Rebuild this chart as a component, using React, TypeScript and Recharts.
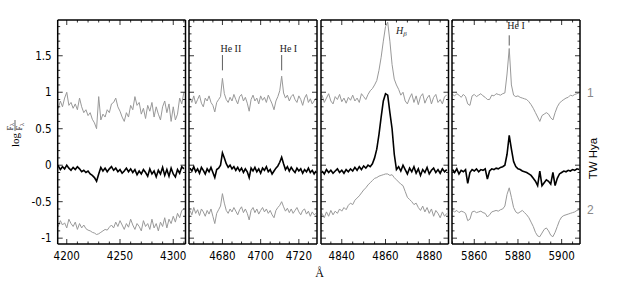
import React from 'react';
import { ComposedChart, Line, XAxis, YAxis, ReferenceLine } from 'recharts';

// log flux ratio, spectrum 1 (top, grey), TW Hya (black), spectrum 2 (bottom, grey)
// panel 1: 4190..4310 A, 2 A step
const p1Upper = [0.84, 0.78, 0.88, 0.80, 0.92, 1.00, 0.82, 0.86, 0.78, 0.84,
  0.76, 0.92, 0.80, 0.72, 0.76, 0.68, 0.72, 0.63, 0.58, 0.50,
  0.94, 0.62, 0.70, 0.66, 0.76, 0.72, 0.84, 0.86, 0.92, 0.80,
  0.74, 0.66, 0.60, 0.72, 0.66, 0.82, 0.76, 0.94, 0.82, 0.86,
  0.70, 0.78, 0.64, 0.82, 0.74, 0.86, 0.66, 0.80, 0.70, 0.62,
  0.80, 0.88, 0.72, 0.84, 0.60, 0.80, 0.62, 0.70, 0.92, 0.84,
  1.00];
const p1Star = [-0.03, -0.01, -0.06, -0.02, -0.05, 0.00, -0.04, -0.07, -0.03, -0.06,
  -0.02, -0.05, -0.09, -0.07, -0.10, -0.08, -0.12, -0.14, -0.17, -0.22,
  -0.12, -0.03, -0.08, -0.04, -0.09, -0.05, -0.02, -0.07, -0.04, -0.09,
  -0.06, -0.11, -0.08, -0.04, -0.09, -0.05, -0.10, -0.06, -0.13, -0.08,
  -0.12, -0.06, -0.10, -0.15, -0.05, -0.12, -0.08, -0.16, -0.07, -0.12,
  -0.03, -0.14, -0.06, -0.15, -0.04, -0.12, -0.16, -0.06, -0.11, -0.02,
  -0.05];
const p1Lower = [-0.80, -0.84, -0.76, -0.82, -0.79, -0.86, -0.74, -0.80, -0.84, -0.78,
  -0.88, -0.80, -0.86, -0.82, -0.87, -0.89, -0.90, -0.92, -0.93, -0.95,
  -0.94, -0.92, -0.90, -0.88, -0.89, -0.85, -0.82, -0.86, -0.78, -0.84,
  -0.76, -0.82, -0.88, -0.80, -0.85, -0.74, -0.82, -0.88, -0.80, -0.84,
  -0.90, -0.76, -0.84, -0.80, -0.88, -0.74, -0.86, -0.80, -0.90, -0.78,
  -0.84, -0.72, -0.86, -0.74, -0.80, -0.70, -0.78, -0.66, -0.72, -0.62,
  -0.60];

// panel 2: 4663..4729 A
const p2Upper = [0.92, 0.86, 0.95, 0.84, 0.90, 0.96, 0.85, 0.80, 0.92, 0.88,
  0.95, 0.86, 0.82, 0.73, 0.86, 0.90, 0.94, 1.19, 0.98, 0.90,
  0.86, 0.93, 0.88, 0.97, 0.90, 0.84, 0.94, 0.97, 0.88, 0.93,
  0.85, 0.74, 0.90, 0.96, 0.88, 0.92, 0.84, 0.95, 0.89, 0.93,
  0.86, 0.96, 0.90, 0.84, 0.76, 0.88, 0.94, 1.02, 1.22, 0.99,
  0.92, 0.96, 0.88, 0.94, 0.97, 0.90, 0.86, 0.95, 0.90, 0.82,
  0.92, 0.97, 0.86, 0.91, 0.84, 0.88, 0.92];
const p2Star = [-0.04, -0.08, -0.02, -0.09, -0.05, -0.11, -0.03, -0.07, -0.12, -0.05,
  -0.09, -0.03, -0.10, -0.17, -0.06, -0.04, 0.00, 0.17, 0.10, 0.02,
  -0.03, 0.00, -0.05, -0.02, -0.07, -0.03, -0.08, -0.04, -0.10, -0.05,
  -0.09, -0.17, -0.04, -0.08, -0.03, -0.09, -0.05, -0.11, -0.04, -0.07,
  -0.02, -0.09, -0.06, -0.12, -0.08, -0.04, -0.01, 0.04, 0.11, 0.02,
  -0.06, -0.02, -0.08, -0.03, -0.07, -0.10, -0.04, -0.08, -0.05, -0.11,
  -0.06, -0.09, -0.04, -0.10, -0.07, -0.12, -0.08];
const p2Lower = [-0.62, -0.68, -0.58, -0.66, -0.61, -0.69, -0.60, -0.64, -0.70, -0.62,
  -0.67, -0.60, -0.70, -0.80, -0.66, -0.61, -0.56, -0.39, -0.52, -0.62,
  -0.66, -0.60, -0.64, -0.58, -0.63, -0.68, -0.61, -0.57, -0.65, -0.60,
  -0.66, -0.75, -0.62, -0.58, -0.65, -0.60, -0.67, -0.62, -0.58, -0.64,
  -0.60, -0.66, -0.62, -0.68, -0.72, -0.62, -0.58, -0.55, -0.50, -0.57,
  -0.63, -0.59, -0.65, -0.60, -0.66, -0.62, -0.58, -0.64, -0.68, -0.62,
  -0.60, -0.67, -0.63, -0.70, -0.64, -0.68, -0.66];

// panel 3: 4831..4888 A (H beta)
const p3Upper = [0.96, 0.86, 0.92, 0.98, 0.88, 0.84, 0.94, 0.90, 0.97, 0.87,
  0.92, 0.85, 0.93, 0.89, 0.96, 0.88, 0.92, 0.86, 0.98, 0.94,
  0.90, 0.97, 1.02, 1.05, 1.10, 1.16, 1.30, 1.48, 1.70, 1.90,
  1.96, 1.70, 1.38, 1.18, 1.10, 1.04, 0.96, 1.00, 0.88, 0.84,
  0.92, 0.98, 0.86, 0.95, 0.83, 0.94, 0.98, 0.85, 0.92, 0.96,
  0.84, 0.93, 0.97, 0.86, 0.90, 0.84, 0.94, 0.96];
const p3Star = [-0.08, -0.12, -0.06, -0.10, -0.07, -0.11, -0.08, -0.05, -0.10, -0.07,
  -0.11, -0.06, -0.09, -0.05, -0.08, -0.03, -0.07, -0.02, -0.06, -0.01,
  -0.04, 0.00, -0.02, 0.02, 0.10, 0.22, 0.42, 0.66, 0.88, 0.98,
  0.96, 0.72, 0.50, 0.15, -0.06, -0.02, -0.08, 0.00, -0.06, -0.12,
  -0.04, -0.09, -0.02, -0.11, -0.05, -0.14, -0.06, -0.10, -0.03, -0.12,
  -0.07, -0.04, -0.10, -0.06, -0.11, -0.05, -0.09, -0.06];
const p3Lower = [-0.66, -0.72, -0.64, -0.70, -0.62, -0.68, -0.63, -0.66, -0.60, -0.63,
  -0.58, -0.61, -0.55, -0.52, -0.54, -0.48, -0.45, -0.42, -0.38, -0.34,
  -0.31, -0.27, -0.24, -0.21, -0.18, -0.17, -0.15, -0.14, -0.13, -0.12,
  -0.12, -0.14, -0.13, -0.17, -0.20, -0.23, -0.26, -0.28, -0.36, -0.44,
  -0.47, -0.50, -0.54, -0.52, -0.58, -0.62, -0.56, -0.64, -0.58, -0.66,
  -0.60, -0.70, -0.62, -0.66, -0.72, -0.64, -0.70, -0.66];

// panel 4: 5850..5908 A (He I 5876, Na D)
const p4Upper = [0.97, 0.95, 0.98, 0.96, 0.93, 0.97, 0.94, 0.84, 0.82, 0.95,
  0.97, 0.94, 0.96, 0.98, 0.95, 0.93, 0.90, 0.90, 0.96, 0.95,
  0.98, 0.97, 0.96, 0.98, 0.99, 1.25, 1.60, 1.10, 0.96, 0.94,
  0.95, 0.93, 0.92, 0.91, 0.90, 0.87, 0.83, 0.78, 0.72, 0.66,
  0.60, 0.68, 0.70, 0.72, 0.70, 0.65, 0.62, 0.72, 0.80, 0.85,
  0.88, 0.90, 0.92, 0.93, 0.96, 0.95, 0.97, 0.98, 0.99];
const p4Star = [-0.06, -0.10, -0.05, -0.12, -0.07, -0.09, -0.06, -0.25, -0.10, -0.06,
  -0.08, -0.05, -0.09, -0.06, -0.07, -0.05, -0.19, -0.08, -0.05, -0.06,
  -0.04, -0.05, -0.03, -0.02, 0.00, 0.15, 0.41, 0.22, 0.05, -0.02,
  -0.05, -0.06, -0.08, -0.09, -0.10, -0.12, -0.14, -0.18, -0.22, -0.28,
  -0.08, -0.28, -0.24, -0.20, -0.22, -0.26, -0.10, -0.28, -0.18, -0.12,
  -0.10, -0.08, -0.09, -0.07, -0.08, -0.06, -0.07, -0.05, -0.06];
const p4Lower = [-0.62, -0.64, -0.62, -0.65, -0.63, -0.64, -0.66, -0.76, -0.74, -0.64,
  -0.63, -0.65, -0.64, -0.63, -0.65, -0.66, -0.71, -0.68, -0.64, -0.63,
  -0.62, -0.63, -0.61, -0.60, -0.56, -0.40, -0.31, -0.44, -0.58, -0.64,
  -0.66, -0.64, -0.62, -0.65, -0.68, -0.72, -0.78, -0.84, -0.92, -0.97,
  -0.98, -0.93, -0.88, -0.86, -0.90, -0.96, -0.98, -0.92, -0.84, -0.76,
  -0.71, -0.69, -0.68, -0.67, -0.66, -0.65, -0.64, -0.62, -0.61];

const p1Ticks = [4200, 4250, 4300];
const p2Ticks = [4680, 4700, 4720];
const p3Ticks = [4840, 4860, 4880];
const p4Ticks = [5860, 5880, 5900];

const yMajor = [-1, -0.5, 0, 0.5, 1, 1.5];
const yLabels = ['-1', '-0.5', '0', '0.5', '1', '1.5'];

// line identifications
const p2Lines = [{ w: 4680, text: 'He II' }, { w: 4711, text: 'He I' }];
const p4Lines = [{ w: 5876, text: 'He I' }];

const SANS_N = "'Liberation Sans Narrow', 'Arial Narrow', 'DejaVu Sans Condensed', sans-serif";
const SANS = "'Liberation Sans', Arial, sans-serif";
const SERIF = "'Liberation Serif', 'DejaVu Serif', serif";
const GREY = '#999';
const Y_DOMAIN = [-1.08, 1.99];

function steps(from: number, to: number, step: number) {
  const out: number[] = [];
  for (let i = 0; from + i * step <= to + 1e-9; i++) out.push(Math.round((from + i * step) * 1000) / 1000);
  return out;
}

const yTicks = steps(-1, 1.9, 0.1);

const yTick = (side: 'left' | 'right', labels: boolean) => (props: any) => {
  const { x, y, payload } = props;
  const v = payload.value;
  const k = yMajor.findIndex((m) => Math.abs(m - v) < 1e-6);
  const len = k >= 0 ? 5 : 2.5;
  const d = side === 'left' ? 1 : -1;
  return (
    <g>
      <line x1={x} x2={x + d * len} y1={y} y2={y} stroke="#000" strokeWidth={0.8} />
      {labels && k >= 0 && (
        <text x={x - 6} y={y + 4} textAnchor="end" fontFamily={SANS_N} fontSize={11.5} fill="#000">{yLabels[k]}</text>
      )}
    </g>
  );
};

const xTick = (majors: number[], where: 'bottom' | 'top') => (props: any) => {
  const { x, y, payload } = props;
  const major = majors.includes(payload.value);
  const len = major ? 5 : 2.5;
  const d = where === 'bottom' ? -1 : 1;
  return (
    <g>
      <line x1={x} x2={x} y1={y} y2={y + d * len} stroke="#000" strokeWidth={0.8} />
      {where === 'bottom' && major && (
        <text x={x} y={y + 16} textAnchor="middle" fontFamily={SANS_N} fontSize={11.5} fill="#000">{payload.value}</text>
      )}
    </g>
  );
};

const lineLabel = (text: string, gap: number) => (props: any) => {
  const vb = props.viewBox || {};
  return (
    <text x={vb.x - 2} y={vb.y - gap} fontFamily={SERIF} fontSize={10} fill="#222">{text}</text>
  );
};

const panels = [
  { start: 4190, step: 2, upper: p1Upper, star: p1Star, lower: p1Lower, domain: [4191.5, 4311.5], ticks: p1Ticks, minor: 10, left: 57.7, right: 185.5, yLab: true, marks: [] as { w: number; text: string }[], markY: [0, 0], gap: 4 },
  { start: 4663, step: 1, upper: p2Upper, star: p2Star, lower: p2Lower, domain: [4662.5, 4729.5], ticks: p2Ticks, minor: 5, left: 189, right: 317, yLab: false, marks: p2Lines, markY: [1.30, 1.51], gap: 3.5 },
  { start: 4831, step: 1, upper: p3Upper, star: p3Star, lower: p3Lower, domain: [4830.5, 4888.8], ticks: p3Ticks, minor: 5, left: 321, right: 448.5, yLab: false, marks: [], markY: [0, 0], gap: 4 },
  { start: 5850, step: 1, upper: p4Upper, star: p4Star, lower: p4Lower, domain: [5849.8, 5908.4], ticks: p4Ticks, minor: 5, left: 452, right: 580, yLab: false, marks: p4Lines, markY: [1.64, 1.78], gap: 6 },
];

const W = 641;
const H = 282;
const TOP = 20;
const BOTTOM = 244;

function Panel({ p }: { p: (typeof panels)[number] }) {
  const data = p.upper.map((v, i) => ({ w: p.start + i * p.step, a: v, b: p.star[i], c: p.lower[i] }));
  const xTicks = steps(Math.ceil(p.domain[0] / p.minor) * p.minor, p.domain[1], p.minor);
  const axisLine = { stroke: '#000', strokeWidth: 1.5 };
  // axes get a 1px band each (zero-sized axes are not drawn), margins take that into account
  return (
    <div style={{ position: 'absolute', left: 0, top: 0 }}>
      <ComposedChart width={W} height={H} data={data}
        margin={{ top: TOP - 1, bottom: H - BOTTOM - 1, left: p.left - 1, right: W - p.right - 1 }}>
        <XAxis xAxisId="b" type="number" dataKey="w" domain={p.domain} allowDataOverflow ticks={xTicks} interval={0}
          height={1} tickSize={0} tickMargin={0} tickLine={false} axisLine={axisLine} tick={xTick(p.ticks, 'bottom')} />
        <XAxis xAxisId="t" orientation="top" type="number" dataKey="w" domain={p.domain} allowDataOverflow ticks={xTicks} interval={0}
          height={1} tickSize={0} tickMargin={0} tickLine={false} axisLine={axisLine} tick={xTick(p.ticks, 'top')} />
        <YAxis yAxisId="l" type="number" domain={Y_DOMAIN} allowDataOverflow ticks={yTicks} interval={0}
          width={1} tickSize={0} tickMargin={0} tickLine={false} axisLine={axisLine} tick={yTick('left', p.yLab)} />
        <YAxis yAxisId="r" orientation="right" type="number" domain={Y_DOMAIN} allowDataOverflow ticks={yTicks} interval={0}
          width={1} tickSize={0} tickMargin={0} tickLine={false} axisLine={axisLine} tick={yTick('right', false)} />
        <Line xAxisId="b" yAxisId="l" type="linear" dataKey="a" stroke={GREY} strokeWidth={1} dot={false} activeDot={false} isAnimationActive={false} />
        <Line xAxisId="b" yAxisId="l" type="linear" dataKey="c" stroke={GREY} strokeWidth={1} dot={false} activeDot={false} isAnimationActive={false} />
        <Line xAxisId="b" yAxisId="l" type="linear" dataKey="b" stroke="#000" strokeWidth={1.6} dot={false} activeDot={false} isAnimationActive={false} />
        {p.marks.map((m) => (
          <ReferenceLine key={m.text + m.w} xAxisId="b" yAxisId="l"
            segment={[{ x: m.w, y: p.markY[0] }, { x: m.w, y: p.markY[1] }]}
            stroke="#333" strokeWidth={0.8} label={lineLabel(m.text, p.gap)} />
        ))}
      </ComposedChart>
    </div>
  );
}

export default function App() {
  return (
    <div style={{ position: 'absolute', left: 0, top: 0, width: W, height: H, background: '#fff' }}>
      {panels.map((p, i) => <Panel key={i} p={p} />)}
      <svg width={W} height={H} style={{ position: 'absolute', left: 0, top: 0, pointerEvents: 'none' }}>
        <text x={396} y={34} fontFamily={SERIF} fontStyle="italic" fontSize={10} fill="#222">
          H<tspan fontSize={7} dy={2}>β</tspan>
        </text>
        <text x={319.5} y={276.5} textAnchor="middle" fontFamily={SERIF} fontSize={12} fill="#000">Å</text>
        <text x={587} y={97} fontFamily={SANS} fontSize={12} fill="#888">1</text>
        <text x={587} y={213.5} fontFamily={SANS} fontSize={12} fill="#888">2</text>
        <text transform="translate(596.5,158.5) rotate(-90)" textAnchor="middle" fontFamily={SANS} fontSize={11.5} fill="#000">TW Hya</text>
        <g transform="translate(19,147) rotate(-90)" fontFamily={SERIF} fill="#000">
          <text x={0} y={0} fontSize={11}>log</text>
          <text x={16.5} y={-6.5} fontSize={8}>F<tspan fontSize={6} dy={1.5}>λ</tspan></text>
          <line x1={16} x2={27} y1={-4} y2={-4} stroke="#000" strokeWidth={0.6} />
          <text x={16.5} y={3} fontSize={8}>F<tspan fontSize={6} dy={1.5}>λ</tspan></text>
        </g>
      </svg>
    </div>
  );
}
